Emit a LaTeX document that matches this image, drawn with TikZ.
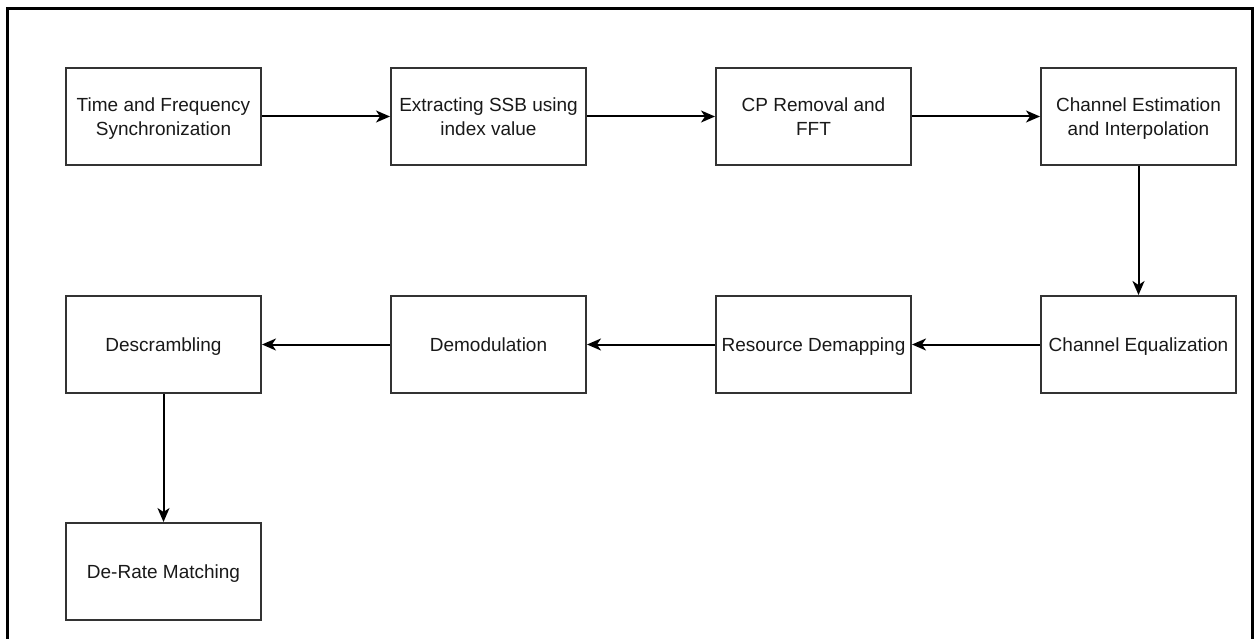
\documentclass[tikz,border=0pt]{standalone}
\usepackage{fontspec}
\setmainfont{Liberation Sans}
\usetikzlibrary{arrows.meta}
\begin{document}
\begin{tikzpicture}[x=1pt,y=-1pt,
  blk/.style={draw=black!80,line width=2pt,minimum width=195pt,minimum height=97pt,
    inner sep=0pt,align=center,font=\fontsize{19}{24}\selectfont,text=black!90,
    text depth=0pt},
  flow/.style={line width=2pt,-{Stealth[length=14pt,width=12pt,inset=4pt]}}]
\useasboundingbox (0,0) rectangle (1257,639);
\begin{scope}
\clip (0,0) rectangle (1257,639);
\draw[line width=3pt] (7.5,650) -- (7.5,8.5) -- (1252.5,8.5) -- (1252.5,650);
\end{scope}
% first row
\node[blk] (tfs) at (163.5,116.5) {Time and Frequency\\Synchronization};
\node[blk] (ssb) at (488.5,116.5) {Extracting SSB using\\index value};
\node[blk] (cp)  at (813.5,116.5) {CP Removal and\\FFT};
\node[blk] (che) at (1138.5,116.5) {Channel Estimation\\and Interpolation};
% second row
\node[blk] (eq)  at (1138.5,344.5) {Channel Equalization};
\node[blk] (rd)  at (813.5,344.5) {Resource Demapping};
\node[blk] (dm)  at (488.5,344.5) {Demodulation};
\node[blk] (ds)  at (163.5,344.5) {Descrambling};
% third row
\node[blk] (drm) at (163.5,571.5) {De-Rate Matching};
% connectors
\draw[flow] (tfs) -- (ssb);
\draw[flow] (ssb) -- (cp);
\draw[flow] (cp) -- (che);
\draw[flow] (che) -- (eq);
\draw[flow] (eq) -- (rd);
\draw[flow] (rd) -- (dm);
\draw[flow] (dm) -- (ds);
\draw[flow] (ds) -- (drm);
\end{tikzpicture}
\end{document}
